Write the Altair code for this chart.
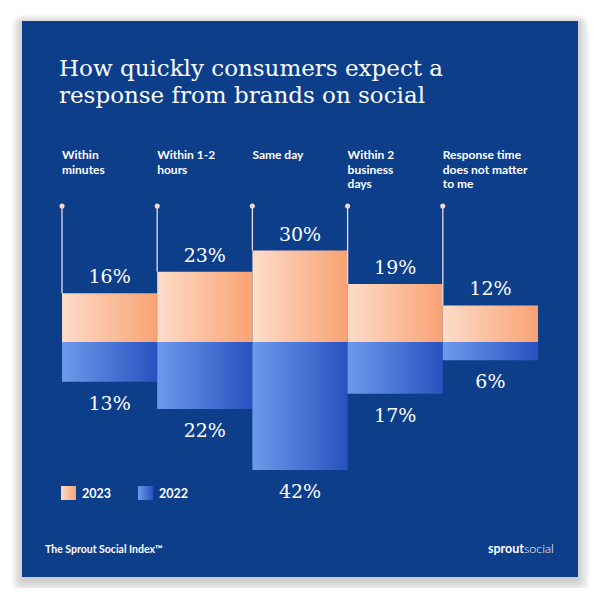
import altair as alt
import pandas as pd

# ---------------- data ----------------
categories = ["Within\nminutes", "Within 1-2\nhours", "Same day",
              "Within 2\nbusiness\ndays", "Response time\ndoes not matter\nto me"]
values_2023 = [16, 23, 30, 19, 12]
values_2022 = [13, 22, 42, 17, 6]
legend_labels = ["2023", "2022"]
title_lines = ["How quickly consumers expect a", "response from brands on social"]
footer_left = "The Sprout Social Index\u2122"
brand_bold = "sprout"
brand_light = "social"

df = pd.DataFrame({"cat": categories, "v2023": values_2023, "v2022": values_2022})
one = pd.DataFrame({"a": [0]})

# ---------------- styles ----------------
CARD = "#0d3e8a"
W, H = 587, 580
orange = alt.Gradient(gradient="linear",
                      stops=[alt.GradientStop(color="#fddcc9", offset=0),
                             alt.GradientStop(color="#f8a273", offset=1)],
                      x1=0, x2=1, y1=0, y2=0)
blue = alt.Gradient(gradient="linear",
                    stops=[alt.GradientStop(color="#6e9aea", offset=0),
                           alt.GradientStop(color="#2951c0", offset=1)],
                    x1=0, x2=1, y1=0, y2=0)

xscale = alt.Scale(range=[54, 530], paddingInner=0, paddingOuter=0)
yscale = alt.Scale(domain=[-50, 50], range=[486.5, 181.5], nice=False, zero=False)
X = alt.X("cat:N", sort=None, scale=xscale, axis=None)
X0 = alt.X("cat:N", sort=None, scale=xscale, axis=None, bandPosition=0)
Xc = alt.X("cat:N", sort=None, scale=xscale, axis=None, bandPosition=0.5)

layers = []

# soft shadow behind the card
for i in range(1, 13):
    layers.append(
        alt.Chart(one).mark_rect(color="black", opacity=0.014, cornerRadius=i).encode(
            x=alt.value(14 - i * 0.9), x2=alt.value(570 + i * 1.0),
            y=alt.value(13 - i * 0.7 + 2), y2=alt.value(569 + i * 1.3 + 2)))
# card
layers.append(alt.Chart(one).mark_rect(color=CARD).encode(
    x=alt.value(14), x2=alt.value(570), y=alt.value(13), y2=alt.value(569)))

base = alt.Chart(df)

bars23 = base.mark_bar(color=orange).encode(
    x=X, y=alt.Y("v2023:Q", scale=yscale, axis=None), y2=alt.datum(0))
bars22 = base.transform_calculate(neg="-datum.v2022").mark_bar(color=blue).encode(
    x=X, y=alt.Y("neg:Q", scale=yscale, axis=None), y2=alt.datum(0))

rules = base.mark_rule(color="#eadbe0", strokeWidth=1.3).encode(
    x=X0, y=alt.Y("v2023:Q", scale=yscale, axis=None), y2=alt.value(198))
dots = base.mark_circle(color="#f3d9d0", opacity=1, size=26).encode(
    x=X0, y=alt.value(198))

cat_labels = base.mark_text(font="Lato", fontWeight="bold", fontSize=12, color="white",
                            align="left", baseline="alphabetic", lineBreak="\n",
                            lineHeight=14.5).encode(
    x=X0, y=alt.value(151), text="cat:N")

lab23 = base.transform_calculate(t="datum.v2023 + '%'").mark_text(
    font="DejaVu Serif", fontSize=19, color="white", align="center",
    baseline="alphabetic", dy=-10).encode(
    x=Xc, y=alt.Y("v2023:Q", scale=yscale, axis=None), text="t:N")
lab22 = base.transform_calculate(t="datum.v2022 + '%'", neg="-datum.v2022").mark_text(
    font="DejaVu Serif", fontSize=19, color="white", align="center",
    baseline="alphabetic", dy=28).encode(
    x=Xc, y=alt.Y("neg:Q", scale=yscale, axis=None), text="t:N")

layers += [bars23, bars22, rules, dots, cat_labels, lab23, lab22]

# title
layers.append(alt.Chart(one).mark_text(
    font="DejaVu Serif", fontSize=23, color="white", align="left",
    baseline="alphabetic", lineHeight=27, text=title_lines).encode(
    x=alt.value(51), y=alt.value(68)))

# legend
layers.append(alt.Chart(one).mark_rect(color=orange).encode(
    x=alt.value(53), x2=alt.value(68), y=alt.value(478), y2=alt.value(492)))
layers.append(alt.Chart(one).mark_rect(color=blue).encode(
    x=alt.value(130), x2=alt.value(145), y=alt.value(478), y2=alt.value(492)))
layers.append(alt.Chart(one).mark_text(
    font="Lato", fontWeight="bold", fontSize=12.5, color="white", align="left",
    baseline="alphabetic", text=legend_labels[0]).encode(x=alt.value(74), y=alt.value(490)))
layers.append(alt.Chart(one).mark_text(
    font="Lato", fontWeight="bold", fontSize=12.5, color="white", align="left",
    baseline="alphabetic", text=legend_labels[1]).encode(x=alt.value(151), y=alt.value(490)))

# footer
layers.append(alt.Chart(one).mark_text(
    font="Lato", fontWeight="bold", fontSize=10.5, color="white", align="left",
    baseline="alphabetic", text=footer_left).encode(x=alt.value(37), y=alt.value(545)))
layers.append(alt.Chart(one).mark_text(
    font="Lato", fontWeight="bold", fontSize=12.5, color="white", align="right",
    baseline="alphabetic", text=brand_bold).encode(x=alt.value(516), y=alt.value(545)))
layers.append(alt.Chart(one).mark_text(
    font="Lato", fontWeight=300, fontSize=12.5, color="white", align="left",
    baseline="alphabetic", text=brand_light).encode(x=alt.value(516), y=alt.value(545)))

chart = alt.layer(*layers).properties(
    width=W, height=H, padding=0, autosize="none", background="white"
).configure_view(stroke=None)

chart.save("out.html", embed_options={"renderer": "svg", "actions": False})
